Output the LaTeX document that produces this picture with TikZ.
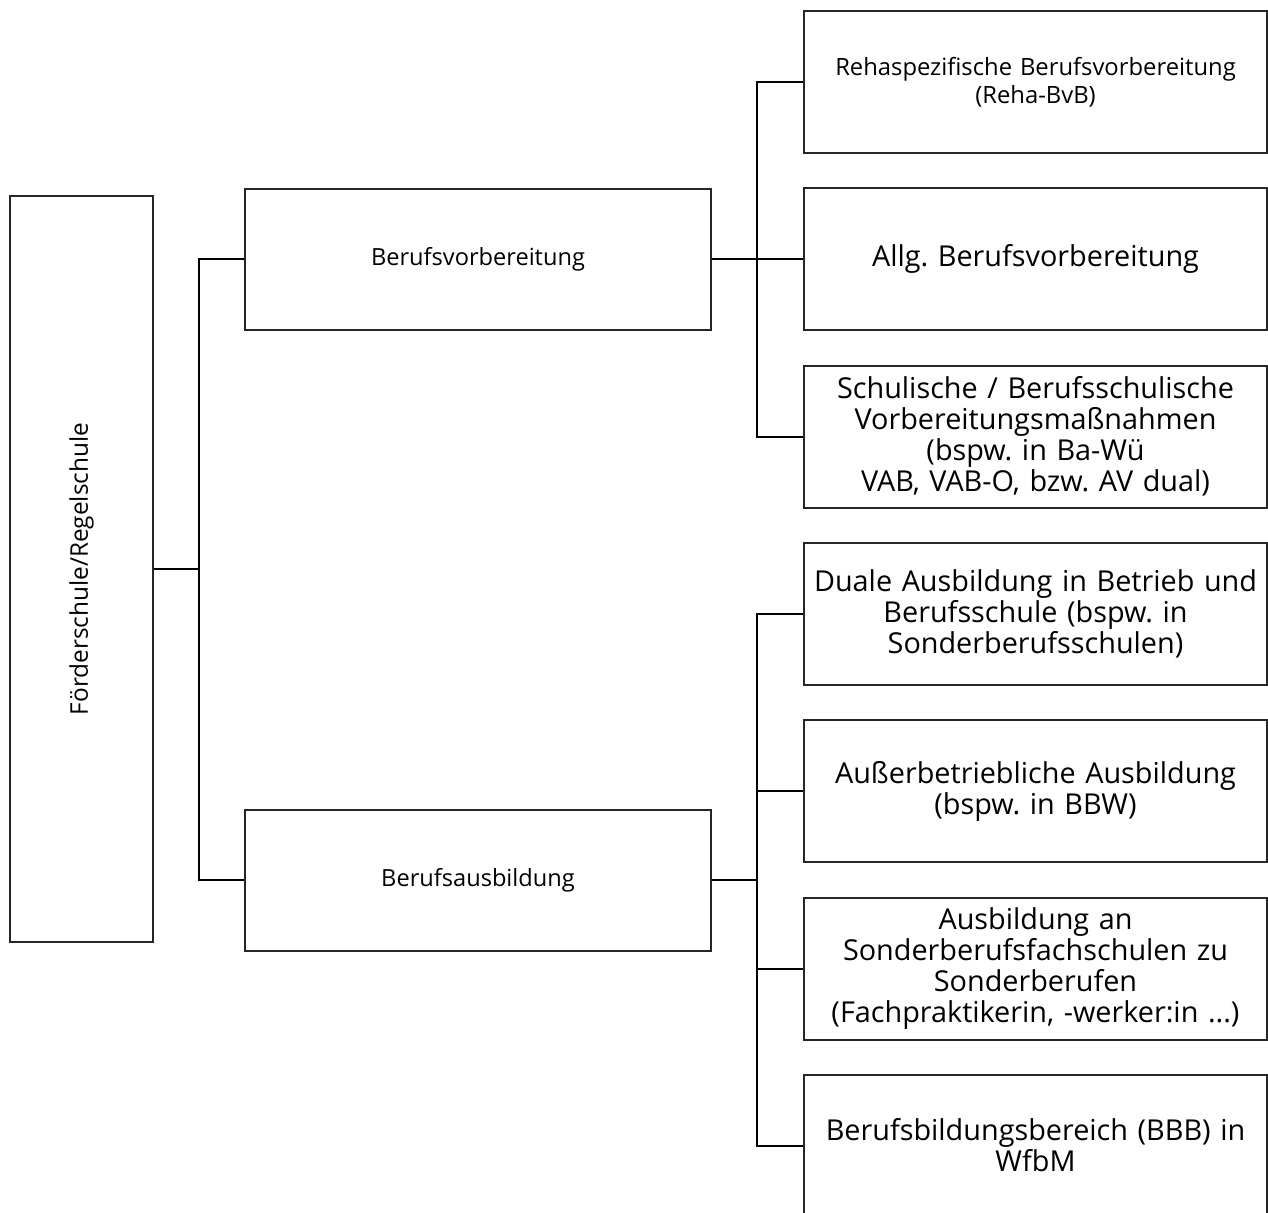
\documentclass[tikz,border=0pt]{standalone}
\usepackage{fontspec}
\setmainfont{Open Sans}
\begin{document}
\frenchspacing
\begin{tikzpicture}[x=0.5pt,y=-0.5pt,line width=1pt,
  box/.style={draw=black!85,line width=1pt,inner sep=2pt,align=center},
  lbox/.style={box,minimum width=231.5pt,minimum height=71pt,text width=226pt,font=\fontsize{14.4}{15.5}\selectfont},
  sbox/.style={box,minimum width=231.5pt,minimum height=71pt,text width=226pt,font=\fontsize{11.9}{14}\selectfont},
  mbox/.style={box,minimum width=233pt,minimum height=70.5pt,font=\fontsize{11.8}{14}\selectfont}]
  \path[use as bounding box,clip] (0,0) rectangle (1268,1212);
  \node[box,minimum width=71.5pt,minimum height=373pt] (fs) at (81.5,569) {};
  \node[rotate=90,font=\fontsize{12.2}{14}\selectfont] (fslab) at (fs.center) {Förderschule/Regelschule};
  \node[mbox] (bv) at (478,259) {Berufsvorbereitung};
  \node[mbox] (ba) at (478,880) {Berufsausbildung};
  \node[sbox] (r1) at (1035.5,82) {Rehaspezifische Berufsvorbereitung\\(Reha-BvB)};
  \node[lbox] (r2) at (1035.5,259) {Allg. Berufsvorbereitung};
  \node[lbox] (r3) at (1035.5,436.5) {Schulische / Berufsschulische\\Vorbereitungsmaßnahmen\\(bspw. in Ba-Wü\\VAB, VAB-O, bzw. AV dual)};
  \node[lbox] (r4) at (1035.5,614) {Duale Ausbildung in Betrieb und\\Berufsschule (bspw. in\\Sonderberufsschulen)};
  \node[lbox] (r5) at (1035.5,791) {Außerbetriebliche Ausbildung\\(bspw. in BBW)};
  \node[lbox] (r6) at (1035.5,968.5) {Ausbildung an\\Sonderberufsfachschulen zu\\Sonderberufen\\(Fachpraktikerin, -werker:in ...)};
  \node[lbox] (r7) at (1035.5,1145.5) {Berufsbildungsbereich (BBB) in\\WfbM};
  \coordinate (j1) at (199,569);
  \coordinate (j2) at (757,259);
  \coordinate (j3) at (757,880);
  \draw (fs.east) -- (j1);
  \draw (bv.west) -| (j1) |- (ba.west);
  \draw (bv.east) -- (j2);
  \draw (r1.west) -| (j2) |- (r3.west);
  \draw (j2) -- (r2.west);
  \draw (ba.east) -- (j3);
  \draw (r4.west) -| (j3) |- (r7.west);
  \draw (r5.west) -| (j3);
  \draw (r6.west) -| (j3);
\end{tikzpicture}
\end{document}
